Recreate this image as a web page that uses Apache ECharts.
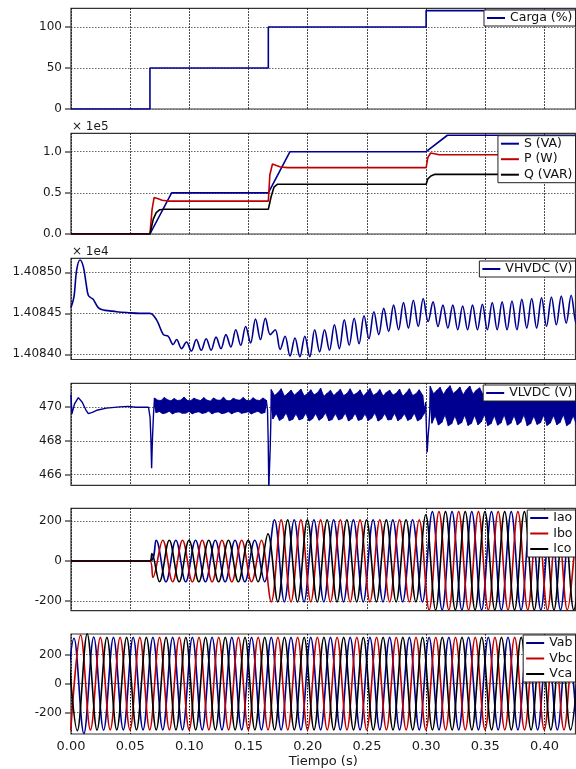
<!DOCTYPE html>
<html><head><meta charset="utf-8">
<script src="https://cdn.jsdelivr.net/npm/echarts@6.0.0/dist/echarts.min.js"></script>
<style>html,body{margin:0;padding:0;background:#fff}#c{width:576px;height:769px}</style>
</head><body><div id="c"></div>
<script>
// ---------- tick labels ----------
const xTicks = [0, 0.05, 0.10, 0.15, 0.20, 0.25, 0.30, 0.35, 0.40];
const cargaTicks = [0, 50, 100];
const powerTicks = [0, 0.5, 1.0];
const hvdcTicks = [1.40840, 1.40845, 1.40850];
const lvdcTicks = [466, 468, 470];
const iTicks = [-200, 0, 200];
const vTicks = [-200, 0, 200];

// ---------- Carga (%) ----------
const cargaT = [0, 0.0667, 0.1667, 0.30, 0.4262];
const cargaV = [0, 50, 100, 120, 120];

// ---------- S, P, Q (x 1e5) ----------
const sT = [0, 0.0667, 0.0850, 0.1667, 0.1850, 0.3000, 0.3180, 0.4262];
const sV = [0, 0, 0.50, 0.50, 1.00, 1.00, 1.20, 1.20];
const pT = [0, 0.0667, 0.0685, 0.0702, 0.0730, 0.0770, 0.0820, 0.1667, 0.1680, 0.1702, 0.1730, 0.1770, 0.1830, 0.3000, 0.3015, 0.3038, 0.3070, 0.3110, 0.4262];
const pV = [0, 0, 0.30, 0.443, 0.43, 0.41, 0.40, 0.40, 0.72, 0.85, 0.835, 0.815, 0.806, 0.806, 0.93, 0.984, 0.975, 0.963, 0.963];
const qT = [0, 0.0667, 0.0695, 0.0720, 0.0750, 0.0790, 0.1667, 0.1690, 0.1715, 0.1745, 0.3000, 0.3015, 0.3040, 0.3075, 0.4262];
const qV = [0, 0, 0.18, 0.26, 0.295, 0.30, 0.30, 0.45, 0.57, 0.605, 0.605, 0.67, 0.705, 0.725, 0.725];

// ---------- VHVDC (x 1e4) ----------
const hvPreT = [0, 0.0025, 0.0048, 0.0076, 0.0104, 0.0127, 0.0146, 0.0168, 0.0188, 0.0230, 0.0273, 0.0329, 0.0385, 0.0470, 0.0580, 0.0667, 0.0723, 0.0780, 0.0821, 0.0863];
const hvPreV = [1.408457, 1.408470, 1.408503, 1.408515, 1.408507, 1.408487, 1.408472, 1.408469, 1.408467, 1.408457, 1.408454, 1.408453, 1.408452, 1.408451, 1.408450, 1.408450, 1.408442, 1.408424, 1.408422, 1.408412];
const hvExtT0 = 0.0892, hvExtStep = 1 / 240;
const hvExt = [
1.408418,1.408407,1.408415,1.408404,1.408418,1.408405,1.408419,1.408405,1.408421,1.408407,
1.408424,1.408409,1.408430,1.408411,1.408434,1.408414,1.408443,1.408418,1.408444,1.408424,
1.408430,1.408406,1.408422,1.408398,1.408420,1.408397,1.408422,1.408397,1.408430,1.408403,
1.408430,1.408405,1.408436,1.408407,1.408442,1.408411,1.408444,1.408413,1.408447,1.408419,
1.408452,1.408424,1.408456,1.408428,1.408460,1.408430,1.408463,1.408432,1.408466,1.408434,
1.408468,1.408440,1.408464,1.408434,1.408460,1.408432,1.408460,1.408430,1.408459,1.408430,
1.408460,1.408430,1.408461,1.408430,1.408463,1.408430,1.408464,1.408430,1.408465,1.408430,
1.408467,1.408432,1.408468,1.408432,1.408469,1.408434,1.408470,1.408436,1.408471,1.408438,
1.408472,1.408438,1.408472];

// ---------- VLVDC (V) ----------
const lvPreT = [0, 0.0007, 0.0030, 0.0062, 0.0095, 0.0125, 0.0146, 0.0180, 0.0217, 0.0300, 0.0410, 0.0480, 0.0550, 0.0655, 0.0668, 0.0675, 0.0681, 0.0688, 0.0697, 0.0702];
const lvPreV = [470.75, 469.60, 470.20, 470.57, 470.30, 469.85, 469.62, 469.70, 469.82, 469.95, 470.02, 470.05, 470.00, 470.00, 469.40, 468.10, 466.38, 468.10, 469.60, 470.10];
const lvStep = 1 / 720;   // samples alternate upper / lower edge of the ripple band
const lvBand1T0 = 0.0705;
const lvBand1 = [
470.55,469.68,470.42,469.74,470.40,469.62, 470.58,469.66,470.44,469.76,470.38,469.60,
470.52,469.70,470.40,469.72,470.43,469.64, 470.60,469.65,470.41,469.75,470.39,469.61,
470.54,469.69,470.45,469.73,470.40,469.63, 470.57,469.67,470.42,469.77,470.37,469.60,
470.55,469.70,470.43,469.72,470.41,469.62, 470.59,469.66,470.40,469.74,470.38,469.61,
470.53,469.71,470.44,469.75,470.42,469.64, 470.58,469.68,470.41,469.73,470.39,469.60,
470.56,469.70,470.43,469.76,470.40,469.63, 470.55,469.68,470.42];
const lvSpike1T = [0.1660, 0.1666, 0.1671, 0.1677, 0.1683, 0.1688];
const lvSpike1V = [469.85, 468.00, 465.20, 465.20, 467.60, 469.10];
const lvBand2T0 = 0.1692;
const lvBand2 = [
471.05,469.30,470.70,469.62,470.86,469.22, 471.10,469.34,470.66,469.66,470.82,469.20,
471.02,469.28,470.72,469.60,470.88,469.25, 471.08,469.32,470.68,469.64,470.80,469.18,
471.04,469.30,470.74,469.62,470.85,469.23, 471.12,469.36,470.65,469.67,470.83,469.20,
471.00,469.27,470.70,469.61,470.87,469.24, 471.06,469.33,470.69,469.65,470.81,469.19,
471.09,469.31,470.73,469.63,470.84,469.22, 471.03,469.29,470.67,469.60,470.86,469.21,
471.11,469.35,470.71,469.66,470.82,469.18, 471.05,469.30,470.68,469.62,470.88,469.24,
471.01,469.28,470.72,469.64,470.83,469.20, 471.07,469.33,470.66,469.61,470.85,469.22,
471.10,469.31,470.70,469.65,470.80,469.19, 471.04,469.30,470.72,469.62];
const lvDip2T = [0.2996, 0.3003, 0.3009, 0.3016, 0.3024, 0.3030];
const lvDip2V = [470.30, 468.60, 467.33, 468.20, 468.90, 469.60];
const lvBand3T0 = 0.3035;
const lvBand3 = [
471.25,469.05,470.80,469.50,471.00,468.95, 471.18,469.10,470.76,469.55,471.06,468.90,
471.28,469.02,470.82,469.48,470.98,468.97, 471.20,469.08,470.74,469.53,471.04,468.92,
471.26,469.04,470.79,469.51,471.01,468.96, 471.15,469.12,470.77,469.56,471.07,468.91,
471.29,469.03,470.81,469.49,470.99,468.94, 471.22,469.07,470.75,469.54,471.03,468.93,
471.24,469.05,470.80,469.50,471.02,468.95, 471.17,469.11,470.78,469.55,471.05,468.90,
471.27,469.03,470.83,469.47,470.97,468.98, 471.21,469.08,470.73,469.52,471.04,468.92,
471.25,469.06,470.79,469.51,471.00,468.96, 471.16,469.10,470.76,469.56,471.06,468.91,
471.28,469.04,470.82,469.49,470.99,468.94];

// ---------- Currents (peaks/troughs every half cycle) ----------
const halfCycle = 1 / 120;
const curPreT = [0, 0.0667];
const curPreV = [0, 0];
const icoPreT = [0, 0.0667, 0.0683];
const icoPreV = [0, 0, 38];
const iaoT0 = 0.0719, iboT0 = 0.0692, icoT0 = 0.0747;
const iaoExt = [104,-104,104,-104,104,-104,104,-104,104,-104,104,-104,
207,-205,207,-205,207,-205,207,-205,207,-205,207,-205,207,-205,207,-205,
248,-246,248,-246,248,-246,248,-246,248,-246,248,-246,248,-246,248,-246];
const iboExt = [-82,104,-104,104,-104,104,-104,104,-104,104,-104,104,
-205,207,-205,207,-205,207,-205,207,-205,207,-205,207,-205,207,-205,207,
-246,248,-246,248,-246,248,-246,248,-246,248,-246,248,-246,248,-246,248];
const icoExt = [-104,104,-104,104,-104,104,-104,104,-104,104,-104,136,
-205,207,-205,207,-205,207,-205,207,-205,207,-205,207,-205,207,-205,232,
-246,248,-246,248,-246,248,-246,248,-246,248,-246,248,-246,248,-246,248];

// ---------- Line voltages (peaks/troughs every half cycle) ----------
const vabT0 = -0.0058, vbcT0 = -0.0002, vcaT0 = -0.0030;
const vabExt = [-320,312,-346,320,-322,
318,-320,318,-320,318,-320,318,-320,318,-320,318,-320,
318,-320,318,-320,318,-320,318,-320,318,-320,318,-320,
318,-320,318,-320,318,-320,318,-320,318,-320,318,-320,
318,-320,318,-320,318,-320,318,-320,318,-320,318,-320];
const vbcExt = [-322,334,-321,
318,-320,318,-320,318,-320,318,-320,318,-320,318,-320,
318,-320,318,-320,318,-320,318,-320,318,-320,318,-320,
318,-320,318,-320,318,-320,318,-320,318,-320,318,-320,
318,-320,318,-320,318,-320,318,-320,318,-320,318,-320,
318,-320];
const vcaExt = [318,-326,343,-321,
318,-320,318,-320,318,-320,318,-320,318,-320,318,-320,
318,-320,318,-320,318,-320,318,-320,318,-320,318,-320,
318,-320,318,-320,318,-320,318,-320,318,-320,318,-320,
318,-320,318,-320,318,-320,318,-320,318,-320,318,-320,
318];

// ---------- helpers ----------
const zip = (t, v) => t.map((x, i) => [x, v[i]]);
const grid = (t0, dt, v) => v.map((y, i) => [t0 + i * dt, y]);

const FONT = 'DejaVu Sans';
const tMax = 0.4262;
const BLUE = '#000090', RED = '#c00000', BLACK = '#000000';

const gridDefs = [
  [8.3, 100.7], [133.3, 100.7], [258.3, 101.2], [383.3, 102], [508.3, 102.4], [634, 101.7]
];
const yRanges = [[0, 122.8], [0, 1.2236], [1.4083937, 1.4085171], [465.37, 471.42], [-249.4, 264.5], [-348.5, 341]];
const yTickSets = [cargaTicks, powerTicks, hvdcTicks, lvdcTicks, iTicks, vTicks];
const yFmt = [v => String(v), v => v.toFixed(1), v => v.toFixed(5), v => String(v), v => String(v), v => String(v)];

const grids = gridDefs.map(g => ({left: 71, right: 0.5, top: g[0], height: g[1], show: true, borderColor: '#333', borderWidth: 1.2}));
const xAxes = gridDefs.map((g, i) => {
  const last = i === 5;
  return {
    type: 'value', gridIndex: i, min: 0, max: tMax,
    axisLine: {show: false},
    axisTick: {show: last, customValues: xTicks, length: 4, lineStyle: {color: '#555'}},
    axisLabel: {show: last, customValues: xTicks, formatter: v => v.toFixed(2), margin: 6, fontFamily: FONT, fontSize: 13, color: '#1a1a1a'},
    splitLine: {show: true, lineStyle: {color: '#111', type: [1.5, 1.5], width: 1}},
    name: last ? 'Tiempo (s)' : '', nameLocation: 'middle', nameGap: 21,
    nameTextStyle: {fontFamily: FONT, fontSize: 13, color: '#1a1a1a'}
  };
});
const yAxes = gridDefs.map((g, i) => ({
  type: 'value', gridIndex: i, min: yRanges[i][0], max: yRanges[i][1],
  axisLine: {show: false},
  axisTick: {show: true, customValues: yTickSets[i], length: 6, lineStyle: {color: '#555', width: 1.5}},
  axisLabel: {customValues: yTickSets[i], formatter: yFmt[i], margin: 9, fontFamily: FONT, fontSize: 12, color: '#1a1a1a'},
  splitLine: {show: true, lineStyle: {color: '#666', type: [1.5, 1.5], width: 1}}
}));

const line = (name, gi, data, color, extra) => Object.assign({
  type: 'line', name, xAxisIndex: gi, yAxisIndex: gi, data, showSymbol: false, symbol: 'none',
  lineStyle: {color, width: 1.6, join: 'bevel'}, itemStyle: {color}, animation: false, clip: true
}, extra || {});

const lvData = [].concat(
  zip(lvPreT, lvPreV), grid(lvBand1T0, lvStep, lvBand1), zip(lvSpike1T, lvSpike1V),
  grid(lvBand2T0, lvStep, lvBand2), zip(lvDip2T, lvDip2V), grid(lvBand3T0, lvStep, lvBand3));
const hvData = [].concat(zip(hvPreT, hvPreV), grid(hvExtT0, hvExtStep, hvExt));

// ripple band of VLVDC: filled between the upper-edge and lower-edge samples
const lvBands = [[lvBand1T0, lvBand1], [lvBand2T0, lvBand2], [lvBand3T0, lvBand3]];
function renderBand(params, api) {
  const b = lvBands[api.value(2)];
  const up = [], lo = [];
  b[1].forEach((v, i) => {
    const p = api.coord([b[0] + i * lvStep, v]);
    (i % 2 === 0 ? up : lo).push(p);
  });
  return {type: 'polygon', shape: {points: up.concat(lo.reverse())},
    style: {fill: BLUE, stroke: BLUE, lineWidth: 0.8}};
}

const SM = 0.36;
const series = [
  line('Carga (%)', 0, zip(cargaT, cargaV), BLUE, {step: 'end'}),
  line('S (VA)', 1, zip(sT, sV), BLUE),
  line('P (W)', 1, zip(pT, pV), RED),
  line('Q (VAR)', 1, zip(qT, qV), BLACK),
  line('VHVDC (V)', 2, hvData, BLUE, {smooth: SM}),
  {type: 'custom', xAxisIndex: 3, yAxisIndex: 3, renderItem: renderBand, clip: true, silent: true,
   encode: {x: 0, y: 1}, animation: false,
   data: [[lvBand1T0, 470, 0], [lvBand2T0, 470, 1], [lvBand3T0, 470, 2]]},
  line('VLVDC (V)', 3, lvData, BLUE, {lineStyle: {color: BLUE, width: 1.4, join: 'bevel'}}),
  line('Iao', 4, zip(curPreT, curPreV).concat(grid(iaoT0, halfCycle, iaoExt)), BLUE, {smooth: SM}),
  line('Ibo', 4, zip(curPreT, curPreV).concat(grid(iboT0, halfCycle, iboExt)), RED, {smooth: SM}),
  line('Ico', 4, zip(icoPreT, icoPreV).concat(grid(icoT0, halfCycle, icoExt)), BLACK, {smooth: SM}),
  line('Vab', 5, grid(vabT0, halfCycle, vabExt), BLUE, {smooth: SM}),
  line('Vbc', 5, grid(vbcT0, halfCycle, vbcExt), RED, {smooth: SM}),
  line('Vca', 5, grid(vcaT0, halfCycle, vcaExt), BLACK, {smooth: SM})
];

const legend = (names, top) => ({
  orient: 'vertical', right: 0.5, top, data: names, backgroundColor: '#fff',
  borderColor: '#222', borderWidth: 1, borderRadius: 0, padding: [1.5, 3, 1.5, 3],
  itemWidth: 18, itemHeight: 2, itemGap: 2.5, icon: 'rect', selectedMode: false,
  textStyle: {fontFamily: FONT, fontSize: 12.5, color: '#111', lineHeight: 12}
});

const option = {
  backgroundColor: '#fff',
  animation: false,
  grid: grids, xAxis: xAxes, yAxis: yAxes, series,
  legend: [
    legend(['Carga (%)'], 10),
    legend(['S (VA)', 'P (W)', 'Q (VAR)'], 135.7),
    legend(['VHVDC (V)'], 261),
    legend(['VLVDC (V)'], 385),
    legend(['Iao', 'Ibo', 'Ico'], 510),
    legend(['Vab', 'Vbc', 'Vca'], 635)
  ],
  graphic: [
    {type: 'text', left: 72, top: 121, style: {text: '× 1e5', font: '12px "DejaVu Sans"', fill: '#1a1a1a'}},
    {type: 'text', left: 72, top: 246, style: {text: '× 1e4', font: '12px "DejaVu Sans"', fill: '#1a1a1a'}}
  ]
};
const chart = echarts.init(document.getElementById('c'));
chart.setOption(option);
</script></body></html>
